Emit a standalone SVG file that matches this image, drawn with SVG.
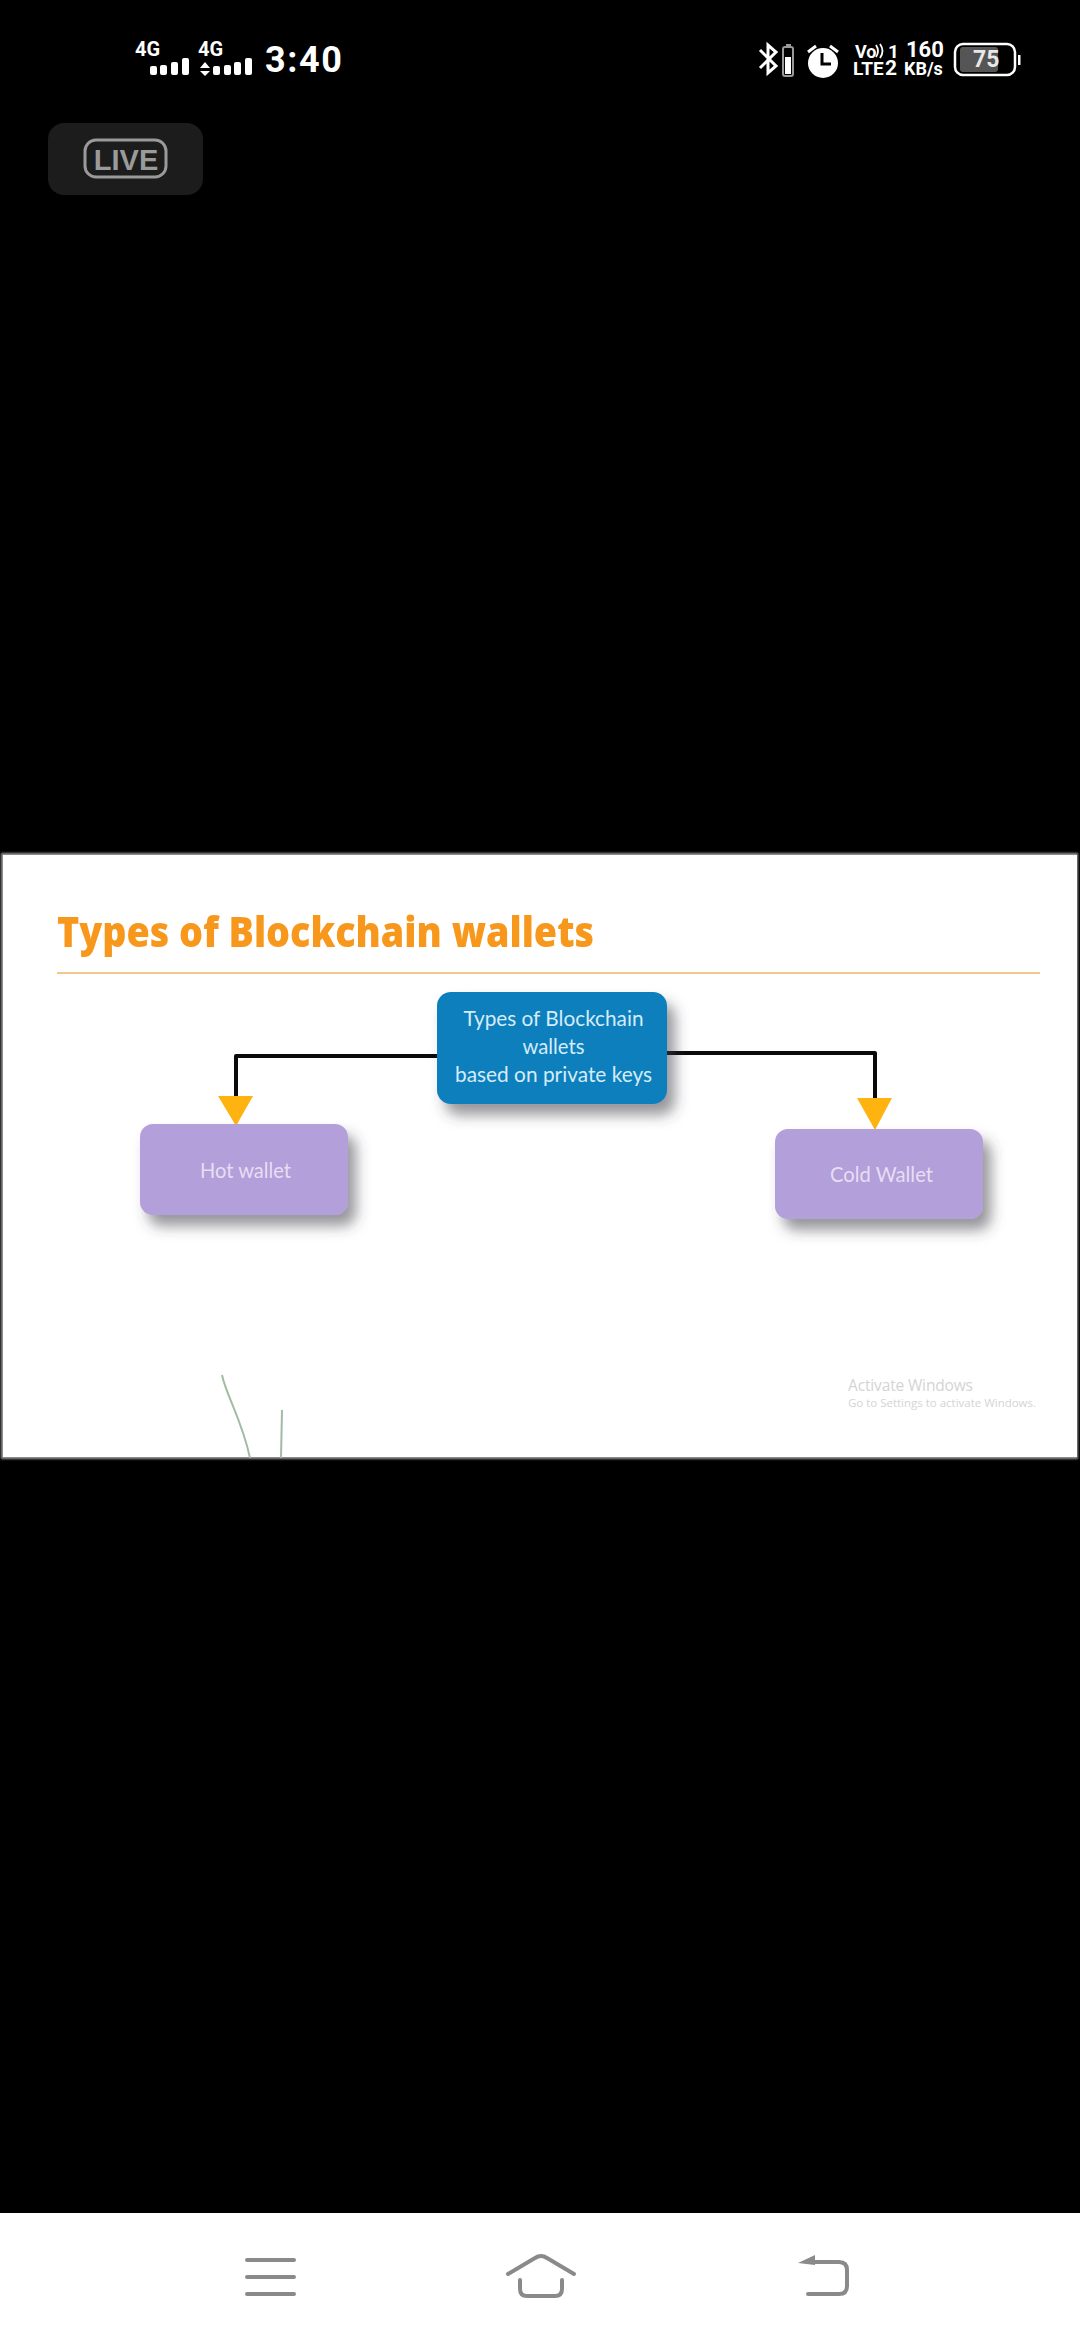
<svg xmlns="http://www.w3.org/2000/svg" width="1080" height="2340" viewBox="0 0 1080 2340">
<style>
.st{font-family:"Roboto","Liberation Sans",sans-serif;font-weight:700;fill:#fff}
.n{font-family:"Lato","Open Sans",sans-serif;font-size:21.500px;fill:#d5ecf8;text-anchor:middle}
.p{font-family:"Lato","Open Sans",sans-serif;font-size:21.500px;fill:#e6def3;text-anchor:middle}
.w{font-family:"Open Sans","Liberation Sans",sans-serif;fill:#d4d4d4}
.c{fill:none;stroke:#0a0a0a;stroke-width:4;stroke-linejoin:round}
.h{fill:#ffb310}
.nav{fill:none;stroke:#8a8a8a;stroke-width:4;stroke-linecap:round;stroke-linejoin:round}
.b{fill:#fff}
</style>
<defs>
<filter id="sh" x="-20%" y="-20%" width="150%" height="170%">
<feDropShadow dx="8" dy="11" stdDeviation="7" flood-color="#3c3c46" flood-opacity="0.55"/>
</filter>
<filter id="soft" x="-5%" y="-20%" width="110%" height="140%"><feGaussianBlur stdDeviation="0.7"/></filter>
<filter id="edge" x="-1%" y="-2%" width="102%" height="104%"><feGaussianBlur stdDeviation="1"/></filter>
</defs>
<rect id="background" width="1080" height="2340" fill="#000"/>

<g id="status-left">
<text class="st" x="135" y="56" font-size="20">4G</text>
<text class="st" x="198" y="56" font-size="20">4G</text>
<rect class="b" x="150" y="66" width="7" height="9" rx="2"/>
<rect class="b" x="160" y="65" width="7" height="10" rx="2"/>
<rect class="b" x="171" y="62" width="7" height="13" rx="2"/>
<rect class="b" x="182" y="58" width="7" height="17" rx="2"/>
<polygon class="b" points="200,68 205,62 210,68"/>
<polygon class="b" points="200,71 210,71 205,76"/>
<rect class="b" x="213" y="66" width="7" height="9" rx="2"/>
<rect class="b" x="224" y="65" width="7" height="10" rx="2"/>
<rect class="b" x="234" y="62" width="7" height="13" rx="2"/>
<rect class="b" x="245" y="58" width="7" height="17" rx="2"/>
<text class="st" x="265" y="72" font-size="36" textLength="77">3:40</text>
</g>

<g id="status-right">
<path d="M760,50 L776,66 L768,73 L768,45 L776,52 L760,68" fill="none" stroke="#fff" stroke-width="3"/>
<rect x="783" y="47" width="10" height="29" rx="2" fill="none" stroke="#999" stroke-width="2"/>
<rect x="786" y="44" width="5" height="3" fill="#999"/>
<rect class="b" x="785" y="57" width="6" height="17"/>
<circle class="b" cx="823" cy="63" r="15"/>
<path d="M822,53 V64 H831" fill="none" stroke="#000" stroke-width="3"/>
<path d="M808,52 L816,46 M838,52 L830,46" stroke="#fff" stroke-width="3"/>
<text class="st" x="855" y="58" font-size="18">Vo</text>
<path d="M876,45 Q880,51 876,57 M880,44 Q885,51 880,58" fill="none" stroke="#fff" stroke-width="1.800"/>
<text class="st" x="888" y="58" font-size="19">1</text>
<text class="st" x="853" y="75" font-size="19">LTE</text>
<text class="st" x="885" y="75" font-size="21">2</text>
<text class="st" x="906" y="57" font-size="22">160</text>
<text class="st" x="904" y="75" font-size="18">KB/s</text>
<rect x="955" y="44" width="60" height="31" rx="8" fill="none" stroke="#fff" stroke-width="2.500"/>
<rect x="960" y="47" width="38" height="25" rx="3" fill="#555"/>
<rect class="b" x="1018" y="55" width="2.500" height="10"/>
<text class="st" x="973" y="67" font-size="23" style="fill:#e8e8e8">75</text>
</g>

<g id="live-badge">
<rect x="48" y="123" width="155" height="72" rx="16" fill="#1c1c1c"/>
<rect x="85" y="140" width="81" height="37" rx="11" fill="none" stroke="#9a9a9a" stroke-width="3"/>
<text x="126" y="170" font-family="'Liberation Sans',sans-serif" font-size="29" font-weight="700" fill="#9a9a9a" text-anchor="middle">LIVE</text>
</g>

<g id="slide">
<rect x="1" y="853" width="1077" height="606" fill="#9a9a9a" filter="url(#edge)"/>
<rect x="3" y="855" width="1074" height="602" fill="#fff"/>
<text filter="url(#soft)" x="57" y="947" font-family="'Open Sans','Liberation Sans',sans-serif" font-size="43" font-weight="800" fill="#f7981d" textLength="537" lengthAdjust="spacingAndGlyphs">Types of Blockchain wallets</text>
<rect x="57" y="972" width="983" height="2" fill="#f0c88e"/>
</g>

<g id="connectors">
<path class="c" d="M437,1056 H236 V1098"/>
<polygon class="h" points="218,1096 253,1096 236,1126"/>
<path class="c" d="M667,1053 H875 V1100"/>
<polygon class="h" points="857,1098 892,1098 875,1130"/>
</g>

<g id="node-root">
<rect x="437" y="992" width="230" height="112" rx="14" fill="#0d7fbd" filter="url(#sh)"/>
<text class="n" x="553.500" y="1026" textLength="180" lengthAdjust="spacingAndGlyphs">Types of Blockchain</text>
<text class="n" x="553.500" y="1054" textLength="62" lengthAdjust="spacingAndGlyphs">wallets</text>
<text class="n" x="553.500" y="1082" textLength="197" lengthAdjust="spacingAndGlyphs">based on private keys</text>
</g>

<g id="node-hot">
<rect x="140" y="1124" width="208" height="91" rx="13" fill="#b39fd9" filter="url(#sh)"/>
<text class="p" x="245.500" y="1178" textLength="91" lengthAdjust="spacingAndGlyphs">Hot wallet</text>
</g>

<g id="node-cold">
<rect x="775" y="1129" width="208" height="90" rx="13" fill="#b39fd9" filter="url(#sh)"/>
<text class="p" x="881.500" y="1182" textLength="103" lengthAdjust="spacingAndGlyphs">Cold Wallet</text>
</g>

<g id="annotation">
<path d="M222,1375 C226,1395 242,1420 250,1458 M282,1410 L281,1458" fill="none" stroke="#a3bba3" stroke-width="2"/>
<text class="w" x="848" y="1391" font-size="15.500" textLength="125">Activate Windows</text>
<text class="w" x="848" y="1407" font-size="11.500" textLength="188">Go to Settings to activate Windows.</text>
</g>

<g id="nav-bar">
<rect y="2213" width="1080" height="127" fill="#fff"/>
<path class="nav" d="M247,2260 H294 M247,2277 H294 M247,2294 H294"/>
<path class="nav" d="M508,2274 L535,2258 Q541,2254 547,2258 L574,2274"/>
<path class="nav" d="M520,2280 V2289 Q520,2296 527,2296 H555 Q562,2296 562,2289 V2280"/>
<path class="nav" d="M808,2294 H839 Q847,2294 847,2286 V2270 Q847,2262 839,2262 H808"/>
<polygon points="798,2263 815,2255 815,2265" fill="#8a8a8a"/>
</g>
</svg>
